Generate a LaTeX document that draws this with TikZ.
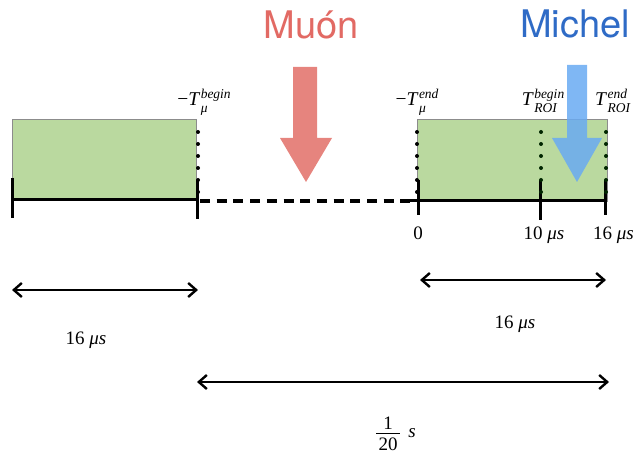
\documentclass[tikz,border=0pt]{standalone}
\usepackage{fontspec}
\setmainfont{Liberation Serif}
\usetikzlibrary{arrows.meta}
\newfontfamily\headfont{TeX Gyre Heros}
\definecolor{boxgreen}{RGB}{186,217,159}
\definecolor{boxedge}{RGB}{140,140,140}
\definecolor{muoncol}{RGB}{226,106,100}
\definecolor{muonarrow}{RGB}{230,132,126}
\definecolor{michelcol}{RGB}{47,107,198}
\definecolor{michelarrow}{RGB}{105,170,242}
\newcommand\scr{\fontsize{13.5}{14}\selectfont\itshape}
\newcommand\tlab[3]{#1\kern0.5pt\makebox[0pt][l]{\raisebox{7pt}{\scr #2}}\makebox[0pt][l]{\raisebox{-7pt}{\scr #3}}\phantom{\scr #2}}
\tikzset{
  greenbox/.style={draw=boxedge, line width=1.2pt, fill=boxgreen, inner sep=0pt, anchor=north west},
  timeline/.style={line width=3pt, black},
  tickline/.style={line width=3pt, black},
  gapline/.style={line width=4pt, black, dash pattern=on 10pt off 6.7pt},
  dotmark/.style={circle, fill=black, inner sep=0pt, minimum size=4pt},
  dotmarkg/.style={circle, fill=black!75!green!60!black, inner sep=0pt, minimum size=4pt},
  span/.style={line width=2.4pt, black, {Straight Barb[length=8pt,width=14pt]}-{Straight Barb[length=8pt,width=14pt]}},
  lbl/.style={inner sep=0pt, anchor=base, font=\fontsize{19}{20}\selectfont},
  tlbl/.style={inner sep=0pt, anchor=base, font=\fontsize{19.5}{20}\selectfont},
  fracbar/.style={line width=1pt, black},
  head/.style={inner sep=0pt, anchor=base, font=\headfont\fontsize{38}{40}\selectfont},
}
\begin{document}
\begin{tikzpicture}[x=1pt,y=-1pt]
\useasboundingbox (0,0) rectangle (638,454);
% boxes
\node[greenbox, minimum width=184pt, minimum height=81pt] (boxL) at (12,119) {};
\node[greenbox, minimum width=190pt, minimum height=82pt] (boxR) at (417,119) {};
% coordinates
\coordinate (tL0) at (12,200);
\coordinate (tL1) at (197,200);
\coordinate (tR0) at (410,201);
\coordinate (tR1) at (607,201);
\coordinate (k0a) at (12,178);   \coordinate (k0b) at (12,218);
\coordinate (k1a) at (197,180);  \coordinate (k1b) at (197,219);
\coordinate (k2a) at (418,180);  \coordinate (k2b) at (418,215);
\coordinate (k3a) at (540,180);  \coordinate (k3b) at (540,220);
\coordinate (k4a) at (605,180);  \coordinate (k4b) at (605,215);
\coordinate (g0) at (200,201);
\coordinate (g1) at (417,201);
% timeline
\draw[timeline] (tL0) -- (tL1);
\draw[timeline] (tR0) -- (tR1);
\draw[gapline] (g0) -- (g1);
\draw[tickline] (k0a) -- (k0b);
\draw[tickline] (k1a) -- (k1b);
\draw[tickline] (k2a) -- (k2b);
\draw[tickline] (k3a) -- (k3b);
\draw[tickline] (k4a) -- (k4b);
% dotted markers
\foreach \yy [count=\i] in {132,144,156,168,180,192}{
  \node[dotmark] (dA\i) at (198,\yy) {};
  \node[dotmark] (dB\i) at (417,\yy) {};
  \node[dotmarkg] (dC\i) at (541,\yy) {};
  \node[dotmarkg] (dD\i) at (606,\yy) {};
}
% Muon arrow
\fill[muonarrow] (293,67) -- (317,67) -- (317,138) -- (332,138) -- (306,182) -- (280,138) -- (293,138) -- cycle;
% Michel arrow
\fill[michelarrow, opacity=0.85] (567,65) -- (587,65) -- (587,138) -- (602,138) -- (577,182) -- (552,138) -- (567,138) -- cycle;
% headings
\node[head, text=muoncol] (muon) at (311,39) {Muón};
\node[head, text=michelcol] (michel) at (575,38) {Michel};
% top labels
\node[tlbl] (lb1) at (204,106) {\tlab{−\textit{T}}{begin}{μ}};
\node[tlbl] (lb2) at (417,106) {\tlab{−\textit{T}}{end}{μ}};
\node[tlbl] (lb3) at (543,106) {\tlab{\textit{T}}{begin}{ROI}};
\node[tlbl] (lb4) at (611,106) {\tlab{\textit{T}}{end}{ROI}};
% axis labels
\node[lbl] (ax0) at (418,240) {0};
\node[lbl] (ax1) at (544,240) {10 \textit{μs}};
\node[lbl, anchor=base west] (ax2) at (593,240) {16 \textit{μs}};
% spans
\coordinate (s1a) at (12,290);  \coordinate (s1b) at (198,290);
\coordinate (s2a) at (420,280); \coordinate (s2b) at (606,280);
\coordinate (s3a) at (197,382); \coordinate (s3b) at (609,382);
\draw[span] (s1a) -- (s1b);
\draw[span] (s2a) -- (s2b);
\draw[span] (s3a) -- (s3b);
\node[lbl] (l1) at (86,345) {16 \textit{μs}};
\node[lbl] (l2) at (515,329) {16 \textit{μs}};
% fraction 1/20 s
\node[lbl] (fnum) at (388,430) {1};
\node[lbl] (fden) at (388,451) {20};
\coordinate (fb0) at (376,434);
\coordinate (fb1) at (400,434);
\draw[fracbar] (fb0) -- (fb1);
\node[lbl] (funit) at (412,438) {\textit{s}};
\end{tikzpicture}
\end{document}
